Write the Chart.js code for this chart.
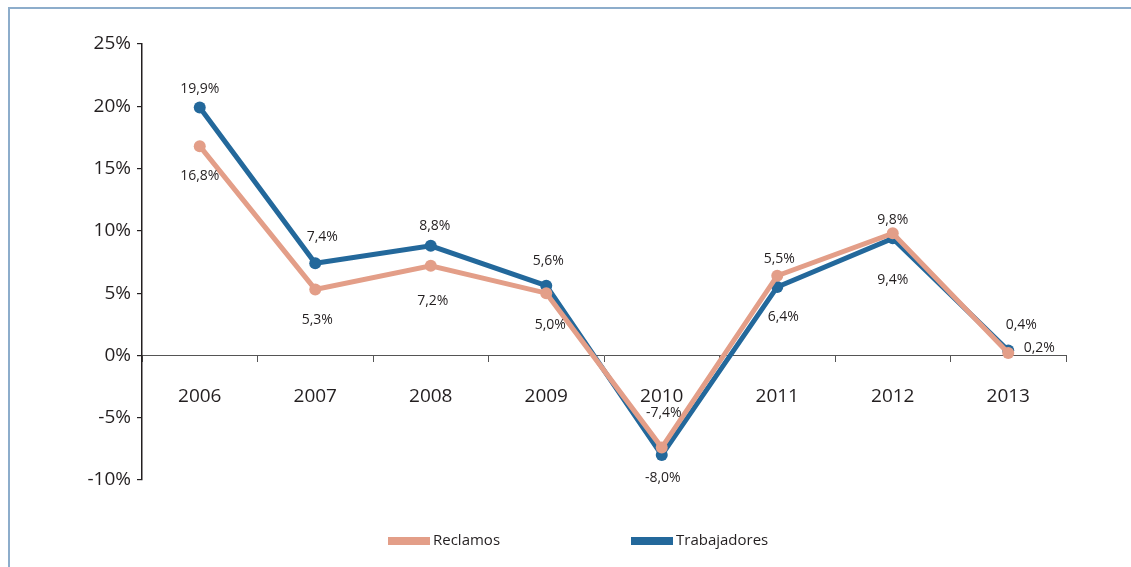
<!DOCTYPE html>
<html><head><meta charset="utf-8">
<script src="https://cdn.jsdelivr.net/npm/chart.js@4.4.1/dist/chart.umd.min.js"></script>
<style>
html,body{margin:0;padding:0;background:#fff;overflow:hidden;}
#wrap{position:relative;width:1131px;height:567px;overflow:hidden;}
#frame{position:absolute;left:8px;top:7px;width:1300px;height:700px;border-left:2px solid #8dadcb;border-top:2px solid #8dadcb;}
canvas{position:absolute;left:0;top:0;}
</style></head><body>
<div id="wrap"><div id="frame"></div><canvas id="c" width="1131" height="567"></canvas></div>
<script>
const categories = ['2006','2007','2008','2009','2010','2011','2012','2013'];
const reclamos = [16.8, 5.3, 7.2, 5.0, -7.4, 6.4, 9.8, 0.2];
const trabajadores = [19.9, 7.4, 8.8, 5.6, -8.0, 5.5, 9.4, 0.4];
const yMin = -10, yMax = 25, yStep = 5;
const seriesNames = ['Reclamos', 'Trabajadores'];

const SALMON = '#e39e88', BLUE = '#23689b', TEXT = '#231f20';

const labelPlugin = {
  id: 'pointLabels',
  afterDatasetsDraw(chart, args, opts) {
    const ctx = chart.ctx;
    ctx.save();
    ctx.font = '14px "Open Sans"';
    ctx.fillStyle = TEXT;
    ctx.textAlign = 'center';
    ctx.textBaseline = 'middle';
    chart.data.datasets.forEach((ds, i) => {
      const meta = chart.getDatasetMeta(i);
      const offs = opts.offsets[i];
      meta.data.forEach((pt, j) => {
        const v = ds.data[j];
        const txt = v.toFixed(1).replace('.', ',') + '%';
        ctx.fillText(txt, pt.x + offs[j][0], pt.y + offs[j][1]);
      });
    });
    ctx.restore();
  }
};

const legendPlugin = {
  id: 'customLegend',
  afterDraw(chart, args, opts) {
    const ctx = chart.ctx;
    ctx.save();
    ctx.font = '15px "Open Sans"';
    ctx.textBaseline = 'middle';
    ctx.textAlign = 'left';
    opts.items.forEach((it, i) => {
      const ds = chart.data.datasets[i];
      ctx.fillStyle = ds.borderColor;
      ctx.fillRect(it.x, opts.y - 4, 42, 8);
      ctx.fillStyle = TEXT;
      ctx.fillText(ds.label, it.x + 45, opts.y);
    });
    ctx.restore();
  }
};

new Chart(document.getElementById('c'), {
  type: 'line',
  data: {
    labels: categories,
    datasets: [
      { label: seriesNames[0], data: reclamos, borderColor: SALMON, backgroundColor: SALMON,
        pointBackgroundColor: SALMON, pointBorderWidth: 0, pointRadius: 6, borderWidth: 5, tension: 0, clip: false },
      { label: seriesNames[1], data: trabajadores, borderColor: BLUE, backgroundColor: BLUE,
        pointBackgroundColor: BLUE, pointBorderWidth: 0, pointRadius: 6, borderWidth: 5, tension: 0, clip: false }
    ]
  },
  options: {
    responsive: false,
    animation: false,
    layout: { padding: { top: 44, bottom: 87, left: 0, right: 65 } },
    plugins: {
      legend: { display: false },
      tooltip: { enabled: false },
      pointLabels: {
        offsets: [
          [[0,30],[2,31],[2,35],[4,32],[2,-35],[6,41],[0,-13],[31,-5]],
          [[0,-19],[7,-26],[4,-20],[2,-25],[1,23],[2,-28],[0,42],[13,-25]]
        ]
      },
      customLegend: { y: 541, items: [{ x: 388 }, { x: 631 }] }
    },
    scales: {
      x: {
        position: { y: 0 },
        offset: true,
        grid: { offset: true, drawOnChartArea: false, drawTicks: true, tickLength: 6, color: '#555', lineWidth: 1 },
        border: { display: true, color: '#555', width: 1 },
        ticks: { font: { family: 'Open Sans', size: 19 }, color: TEXT, padding: 24, maxRotation: 0 }
      },
      y: {
        min: yMin, max: yMax,
        afterFit(s) { s.width = 142; },
        grid: { drawOnChartArea: false, drawTicks: true, tickLength: 5, color: TEXT, lineWidth: 1.2 },
        border: { display: true, color: TEXT, width: 1.5 },
        ticks: { stepSize: yStep, font: { family: 'Open Sans', size: 19 }, color: TEXT, padding: 6,
          callback: v => v + '%' }
      }
    }
  },
  plugins: [labelPlugin, legendPlugin]
});
</script>
</body></html>
